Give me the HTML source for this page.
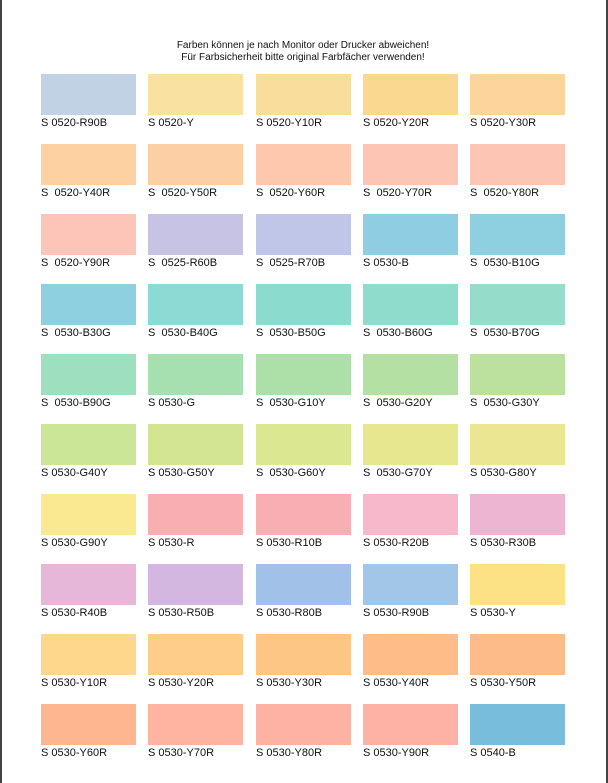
<!DOCTYPE html>
<html><head><meta charset="utf-8"><style>
body{margin:0;width:608px;height:783px;background:#fff;position:relative;overflow:hidden;font-family:"Liberation Sans",sans-serif;}
.bl{position:absolute;left:0;top:0;width:2px;height:783px;background:#444;}
.br{position:absolute;left:606px;top:0;width:2px;height:783px;background:#444;}
.t{position:absolute;left:0;width:608px;text-align:center;font-size:10px;color:#111;}
.s{position:absolute;width:95px;height:41px;}
.l{position:absolute;font-size:11px;color:#111;white-space:pre;}
</style></head><body>
<div class="bl"></div><div class="br"></div>
<div class="t" style="top:40px;left:-1px">Farben können je nach Monitor oder Drucker abweichen!</div>
<div class="t" style="top:52px;left:-1px">Für Farbsicherheit bitte original Farbfächer verwenden!</div>
<div id="g"></div>
<script>
var d=[
["#c1d2e4","S 0520-R90B"],["#f8e1a1","S 0520-Y"],["#f8dd9c","S 0520-Y10R"],["#fbd88f","S 0520-Y20R"],["#fdd49c","S 0520-Y30R"],
["#fdd1a2","S  0520-Y40R"],["#fdcfa5","S  0520-Y50R"],["#fdc8ae","S  0520-Y60R"],["#fdc5b3","S  0520-Y70R"],["#fdc6b4","S  0520-Y80R"],
["#fdc5b8","S  0520-Y90R"],["#c7c3e5","S  0525-R60B"],["#bfc6e8","S  0525-R70B"],["#8ecde2","S 0530-B"],["#8ecfe0","S  0530-B10G"],
["#8fd0e0","S  0530-B30G"],["#8dd9d4","S  0530-B40G"],["#8cdbcf","S  0530-B50G"],["#8fdccd","S  0530-B60G"],["#95dcca","S  0530-B70G"],
["#9ddfbe","S  0530-B90G"],["#a6e0b1","S 0530-G"],["#ade0a9","S  0530-G10Y"],["#b4e0a3","S  0530-G20Y"],["#bce19e","S  0530-G30Y"],
["#cbe697","S 0530-G40Y"],["#d3e492","S 0530-G50Y"],["#dce792","S  0530-G60Y"],["#e7e78f","S  0530-G70Y"],["#ebe692","S 0530-G80Y"],
["#fbe992","S 0530-G90Y"],["#f9aeb1","S 0530-R"],["#f8aeb3","S 0530-R10B"],["#f7b8cc","S 0530-R20B"],["#eeb5d2","S 0530-R30B"],
["#e6b7d8","S 0530-R40B"],["#d3b7e0","S 0530-R50B"],["#a2c1e8","S 0530-R80B"],["#a1c6e8","S 0530-R90B"],["#fde185","S 0530-Y"],
["#fed68c","S 0530-Y10R"],["#fecd8a","S 0530-Y20R"],["#fec684","S 0530-Y30R"],["#febd88","S 0530-Y40R"],["#febb8a","S 0530-Y50R"],
["#feb690","S 0530-Y60R"],["#feb4a0","S 0530-Y70R"],["#feb2a4","S 0530-Y80R"],["#feb2a6","S 0530-Y90R"],["#78bddc","S 0540-B"]];
var xs=[41,148,256,363,470],h="";
d.forEach(function(e,i){var r=Math.floor(i/5),c=i%5,y=74+r*70;
h+='<div class="s" style="left:'+xs[c]+'px;top:'+y+'px;background:'+e[0]+'"></div>';
h+='<div class="l" style="left:'+xs[c]+'px;top:'+(y+43)+'px">'+e[1]+'</div>';});
document.getElementById("g").innerHTML=h;
</script>
</body></html>
